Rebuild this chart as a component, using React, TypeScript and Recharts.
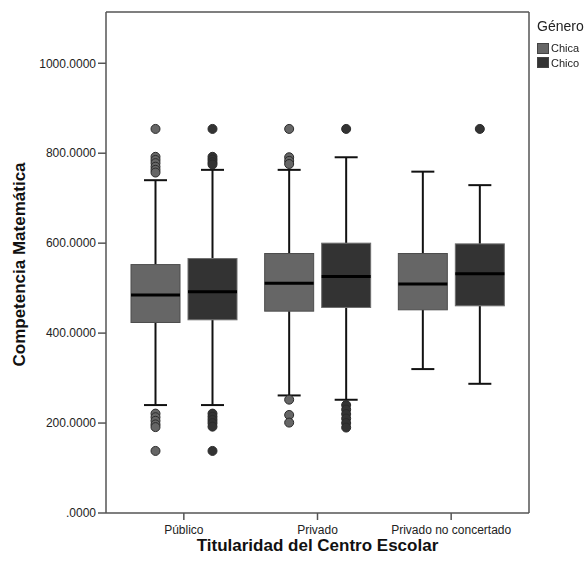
import React from 'react';
import { ComposedChart, Bar, XAxis, YAxis, Legend } from 'recharts';

const categories = ['Público', 'Privado', 'Privado no concertado'];
const yTicks = [0, 200, 400, 600, 800, 1000];
const yDomain = [0, 1114];

const chicaQ1 = [423.6, 448.8, 451.8];
const chicaMedian = [485, 511, 509];
const chicaQ3 = [552.4, 577, 577];
const chicaLow = [240, 261.4, 320];
const chicaHigh = [740, 763, 759];
const chicaOutliers = [
  [854, 792, 785, 778, 770, 763, 757, 221, 213, 205, 197, 191, 138],
  [854, 791, 783, 776, 252, 218, 201],
  [],
];

const chicoQ1 = [429.6, 457, 460.7];
const chicoMedian = [491.8, 525.9, 531.8];
const chicoQ3 = [565.8, 600, 598.4];
const chicoLow = [240, 251.8, 287.3];
const chicoHigh = [763, 791, 729];
const chicoOutliers = [
  [854, 792, 786, 780, 775, 221, 214, 207, 200, 192, 138],
  [854, 240, 230, 220, 210, 200, 190],
  [854],
];

const FONT = '"Liberation Sans", Arial, sans-serif';
const CHICA = '#666666';
const CHICO = '#333333';

const data = categories.map((cat, i) => ({
  cat,
  chicaRange: [chicaQ1[i], chicaQ3[i]],
  chicoRange: [chicoQ1[i], chicoQ3[i]],
  chica: { q1: chicaQ1[i], med: chicaMedian[i], q3: chicaQ3[i], low: chicaLow[i], high: chicaHigh[i], out: chicaOutliers[i] },
  chico: { q1: chicoQ1[i], med: chicoMedian[i], q3: chicoQ3[i], low: chicoLow[i], high: chicoHigh[i], out: chicoOutliers[i] },
}));

function makeBoxShape(seriesKey: string, boxStroke: string) {
  return (props: any) => {
    const { x, y, width, height, payload, fill } = props;
    const s = payload[seriesKey];
    const top = Math.min(y, y + height);
    const h = Math.abs(height);
    const k = h / (s.q3 - s.q1);
    const py = (v: number) => top + (s.q3 - v) * k;
    const cx = x + width / 2;
    const cap = 11.5;
    const wStroke = '#111';
    return (
      <g>
        <line x1={cx} x2={cx} y1={py(s.high)} y2={top} stroke={wStroke} strokeWidth={2} />
        <line x1={cx} x2={cx} y1={top + h} y2={py(s.low)} stroke={wStroke} strokeWidth={2} />
        <line x1={cx - cap} x2={cx + cap} y1={py(s.high)} y2={py(s.high)} stroke={wStroke} strokeWidth={2} />
        <line x1={cx - cap} x2={cx + cap} y1={py(s.low)} y2={py(s.low)} stroke={wStroke} strokeWidth={2} />
        <rect x={x} y={top} width={width} height={h} fill={fill} stroke={boxStroke} strokeWidth={1} />
        <line x1={x} x2={x + width} y1={py(s.med)} y2={py(s.med)} stroke="#000" strokeWidth={3} />
        {s.out.map((v: number, j: number) => (
          <circle key={j} cx={cx} cy={py(v)} r={4.5} fill={fill} stroke="#2a2a2a" strokeWidth={1} />
        ))}
      </g>
    );
  };
}

const YTitle = (props: any) => {
  const vb = props.viewBox || { x: 0, y: 12, width: 106, height: 501 };
  const cx = 19;
  const cy = vb.y + vb.height / 2 + 2;
  return (
    <text x={cx} y={cy} transform={`rotate(-90 ${cx} ${cy})`} textAnchor="middle" dominantBaseline="central"
      fontSize={17} fontWeight="bold" fill="#111" fontFamily={FONT}>
      Competencia Matemática
    </text>
  );
};

const XTitle = (props: any) => {
  const vb = props.viewBox || { x: 106, y: 513, width: 423, height: 51 };
  return (
    <text x={vb.x + vb.width / 2} y={551} textAnchor="middle" fontSize={17} fontWeight="bold" fill="#111" fontFamily={FONT}>
      Titularidad del Centro Escolar
    </text>
  );
};

const LegendContent = (props: any) => {
  const payload = props.payload || [];
  return (
    <div style={{ fontFamily: FONT, color: '#222', opacity: 0.999, willChange: 'transform' }}>
      <div style={{ fontSize: 14, lineHeight: '18px', marginBottom: 6, color: '#222' }}>Género</div>
      {payload.map((p: any) => (
        <div key={p.value} style={{ display: 'flex', alignItems: 'center', height: 14.5, fontSize: 11, color: '#222' }}>
          <span style={{ display: 'inline-block', width: 10, height: 9, background: p.color, border: '1px solid #444', marginRight: 2 }} />
          <span style={{ color: '#222' }}>{p.value}</span>
        </div>
      ))}
    </div>
  );
};

const axisLine = { stroke: '#555', strokeWidth: 1.5 };

export default function App() {
  return (
    <div style={{ position: 'absolute', left: 0, top: 0, fontFamily: FONT }}>
      <ComposedChart width={586} height={564} data={data} margin={{ top: 11, right: 56, bottom: 0, left: 0 }}
        barSize={49} barGap={8} style={{ fontFamily: FONT }}>
        <XAxis dataKey="cat" height={51} padding={{ left: 11, right: 11 }} tickSize={7} tickMargin={5}
          tick={{ fontSize: 12, fill: '#222' }} axisLine={axisLine} tickLine={axisLine} interval={0}
          label={<XTitle />} />
        <XAxis xAxisId="top" dataKey="cat" orientation="top" height={1} tick={false} tickLine={false} axisLine={axisLine} />
        <YAxis type="number" domain={yDomain} ticks={yTicks} width={106} tickSize={8} tickMargin={2}
          tick={{ fontSize: 12, fill: '#222' }} axisLine={axisLine} tickLine={axisLine}
          tickFormatter={(v: number) => (v === 0 ? '.0000' : v.toFixed(4))} label={<YTitle />} />
        <YAxis yAxisId="right" orientation="right" type="number" domain={yDomain} width={1} tick={false} tickLine={false} axisLine={axisLine} />
        <Legend layout="horizontal" align="center" verticalAlign="middle"
          wrapperStyle={{ left: 537, top: 17, width: 49 }} content={<LegendContent />} />
        <Bar dataKey="chicaRange" name="Chica" fill={CHICA} isAnimationActive={false} shape={makeBoxShape('chica', '#4d4d4d')} />
        <Bar dataKey="chicoRange" name="Chico" fill={CHICO} isAnimationActive={false} shape={makeBoxShape('chico', '#6e6e6e')} />
      </ComposedChart>
    </div>
  );
}
